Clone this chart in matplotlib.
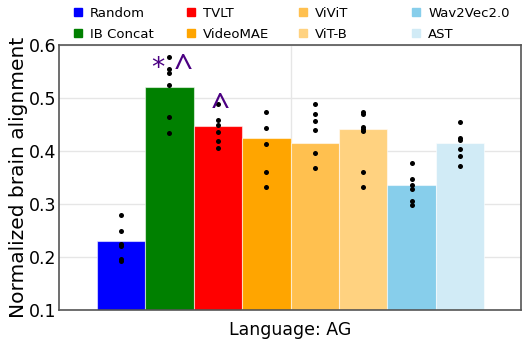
import matplotlib
matplotlib.use("Agg")
import matplotlib.pyplot as plt
from matplotlib.lines import Line2D

models = ["Random", "IB Concat", "TVLT", "VideoMAE", "ViViT", "ViT-B", "Wav2Vec2.0", "AST"]
means = [0.231, 0.522, 0.447, 0.4245, 0.415, 0.4415, 0.336, 0.416]
subject_points = [
    [0.280, 0.250, 0.2245, 0.221, 0.197, 0.1925],
    [0.5785, 0.555, 0.547, 0.526, 0.465, 0.435],
    [0.489, 0.459, 0.4495, 0.4365, 0.4195, 0.406],
    [0.4735, 0.4435, 0.413, 0.3615, 0.332],
    [0.4885, 0.471, 0.4575, 0.441, 0.3975, 0.368],
    [0.4745, 0.470, 0.4455, 0.442, 0.439, 0.3615, 0.332],
    [0.3775, 0.347, 0.3365, 0.3285, 0.307, 0.298],
    [0.4545, 0.4245, 0.4215, 0.404, 0.3905, 0.373],
]
colors = ["#0000FF", "#008000", "#FF0000", "#FFA500", "#FFC04F", "#FFD280", "#87CEEB", "#D1EBF6"]
annot_text = ["*", "^", "^"]
annot_x = [0.755, 1.29, 2.045]
annot_y = [0.5553, 0.5374, 0.4638]
annot_size = [19, 24, 24]
annot_va = ["center", "baseline", "baseline"]
annot_font = ["DejaVu Sans", "Noto Sans", "Noto Sans"]
xlabel_text = "Language: AG"

W, H = 529, 364
fig = plt.figure(figsize=(W / 100, H / 100), dpi=100)
ax = fig.add_axes([59.3 / W, 1 - 310.3 / H, (521 - 59.3) / W, (310.3 - 45.3) / H])

xs = list(range(len(models)))
ax.bar(xs, means, width=1.0, bottom=0, color=colors,
       edgecolor=(1, 1, 1, 0.55), linewidth=0.8, zorder=2)
for x, pts in zip(xs, subject_points):
    ax.scatter([x] * len(pts), pts, s=13, color="black", zorder=3, linewidths=0)

for t, x, y, fs, va, fam in zip(annot_text, annot_x, annot_y, annot_size, annot_va, annot_font):
    ax.text(x, y, t, ha="center", va=va, color="#4B0082",
            fontsize=fs, family=fam, zorder=4)

ax.set_ylim(0.1, 0.6)
ax.set_xlim(-0.5 - 0.772, 7.5 + 0.757)
ax.set_yticks([0.1, 0.2, 0.3, 0.4, 0.5, 0.6])
ax.set_yticklabels(["0.1", "0.2", "0.3", "0.4", "0.5", "0.6"])
ax.set_xticks([3.5])
ax.set_xticklabels([xlabel_text])
ax.tick_params(axis="both", length=0, labelsize=12.5, pad=2)
ax.tick_params(axis="x", pad=8)
ax.grid(True, color="#e6e6e6", linewidth=1, zorder=0)
ax.set_axisbelow(True)
for s in ax.spines.values():
    s.set_color("#555555")
    s.set_linewidth(1.2)
ax.set_ylabel("Normalized brain alignment", fontsize=14.5, labelpad=1)

handles = [Line2D([], [], marker="s", linestyle="none", markersize=5.5,
                  markerfacecolor=c, markeredgecolor=c) for c in colors]
col_x = [69, 182, 294, 407]
for ci, cx in enumerate(col_x):
    fig.legend(handles[2 * ci:2 * ci + 2], models[2 * ci:2 * ci + 2], ncol=1,
               loc="upper left", bbox_to_anchor=(cx / W, 1 - 4 / H),
               frameon=False, fontsize=9.5, handletextpad=0.4,
               labelspacing=0.6, handlelength=1.0, borderpad=0.2,
               borderaxespad=0)

fig.savefig("out.png", dpi=100)
